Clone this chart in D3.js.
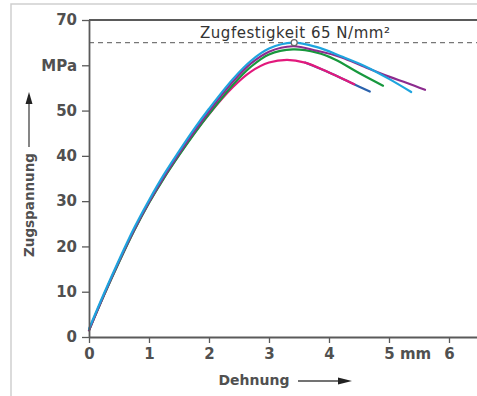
<!DOCTYPE html>
<html>
<head>
<meta charset="utf-8">
<script src="https://cdn.jsdelivr.net/npm/d3@7"></script>
<style>
  body { margin: 0; background: #fff; }
  svg { display: block; font-family: "DejaVu Sans", sans-serif; }
</style>
</head>
<body>
<div id="chart"></div>
<script>
// Dehnung (mm) / Zugspannung (MPa)
var dehnungTicks = [0, 1, 2, 3, 4, 5, 6];
var spannungTicks = [0, 10, 20, 30, 40, 50, 60, 70];
var zugfestigkeit = 65;
var peakDehnung = 3.42;

var blau = [[0,1.8],[0.25,9.6],[0.5,17],[0.75,24],[1,30.2],[1.25,35.9],[1.5,41],[1.75,45.9],[2,50.4],[2.4,57],[2.7,61],[3,63.7],[3.4,65],[3.8,64],[4.2,62],[4.6,59.8],[5,57],[5.37,54.1]];
var lila = [[0,1.5],[0.25,9.3],[0.5,16.7],[0.75,23.6],[1,29.8],[1.25,35.4],[1.5,40.5],[1.75,45.3],[2,49.8],[2.4,56.4],[2.7,60.4],[3,63],[3.4,64.2],[3.8,63.2],[4.2,61.8],[4.6,59.6],[5,57.5],[5.3,56.1],[5.6,54.6]];
var gruen = [[0,1.5],[0.25,9.2],[0.5,16.5],[0.75,23.4],[1,29.6],[1.25,35.1],[1.5,40.1],[1.75,44.8],[2,49.2],[2.4,55.7],[2.7,59.7],[3,62.4],[3.4,63.5],[3.8,62.8],[4.1,61.3],[4.5,58.3],[4.9,55.5]];
var magenta = [[0,1.5],[0.25,9.3],[0.5,16.6],[0.75,23.5],[1,29.7],[1.25,35.2],[1.5,40.2],[1.75,44.9],[2,49.2],[2.4,55.2],[2.7,58.6],[3,60.6],[3.3,61.2],[3.6,60.6],[4,58.4],[4.42,55.8]];
var dunkelblau = [[3.6,60.6],[4,58.4],[4.4,55.9],[4.68,54.2]];

var series = [
    { data: dunkelblau, color: "#2b62ad" },
    { data: magenta, color: "#e2197c" },
    { data: gruen, color: "#17983d" },
    { data: lila, color: "#8c2b8e" },
    { data: blau, color: "#1ea4de" }
];

var width = 477, height = 396;
var svg = d3.select("#chart").append("svg")
    .attr("width", width)
    .attr("height", height);

// light outer frame
svg.append("path")
    .attr("d", "M11,396V4H477")
    .attr("fill", "none")
    .attr("stroke", "#cfcfcf")
    .attr("stroke-width", 1.5);

var x = d3.scaleLinear().domain([0, 388 / 60]).range([89, 477]);
var y = d3.scaleLinear().domain([0, 70]).range([337, 20]);

// top border of the plot
svg.append("line")
    .attr("x1", x(0)).attr("x2", 477)
    .attr("y1", y(70)).attr("y2", y(70))
    .attr("stroke", "#5a5a5a")
    .attr("stroke-width", 1.8);

// Zugfestigkeit dashed line
svg.append("line")
    .attr("x1", x(0)).attr("x2", 477)
    .attr("y1", y(zugfestigkeit)).attr("y2", y(zugfestigkeit))
    .attr("stroke", "#777")
    .attr("stroke-width", 1.3)
    .attr("stroke-dasharray", "5,4");

svg.append("text")
    .attr("x", 200)
    .attr("y", 37.5)
    .attr("font-size", "15px")
    .attr("fill", "#333")
    .attr("textLength", 190)
    .attr("lengthAdjust", "spacing")
    .text("Zugfestigkeit 65 N/mm²");

// curves
var line = d3.line()
    .x(function(d) { return x(d[0]); })
    .y(function(d) { return y(d[1]); })
    .curve(d3.curveCatmullRom.alpha(0.5));

svg.selectAll(".kurve")
    .data(series)
    .enter().append("path")
    .attr("class", "kurve")
    .attr("d", function(d) { return line(d.data); })
    .attr("fill", "none")
    .attr("stroke", function(d) { return d.color; })
    .attr("stroke-width", 2.2)
    .attr("stroke-linecap", "round");

svg.append("circle")
    .attr("cx", x(peakDehnung))
    .attr("cy", y(zugfestigkeit))
    .attr("r", 3)
    .attr("fill", "#fff")
    .attr("stroke", "#666")
    .attr("stroke-width", 1.2);

// axes
var xAxis = d3.axisBottom(x).tickValues(dehnungTicks).tickSize(6).tickPadding(5).tickSizeOuter(0)
    .tickFormat(d3.format("d"));
var yAxis = d3.axisLeft(y).tickValues(spannungTicks).tickSize(7).tickPadding(5).tickSizeOuter(0)
    .tickFormat(function(d) { return d === 60 ? "MPa" : d; });

var gx = svg.append("g").attr("transform", "translate(0," + y(0) + ")").call(xAxis);
var gy = svg.append("g").attr("transform", "translate(" + x(0) + ",0)").call(yAxis);

[gx, gy].forEach(function(g) {
    g.select(".domain").attr("stroke", "#5a5a5a").attr("stroke-width", 1.8);
    g.selectAll(".tick line").attr("stroke", "#5a5a5a").attr("stroke-width", 1.3);
    g.selectAll(".tick text")
        .attr("fill", "#505050")
        .attr("font-size", "15px")
        .attr("font-weight", "bold")
        .attr("font-family", "DejaVu Sans, sans-serif");
});

gx.selectAll(".tick text")
    .filter(function(d) { return d === 5; })
    .attr("text-anchor", "start")
    .attr("x", -5.2)
    .text("5 mm");

// axis titles with arrows
svg.append("text")
    .attr("transform", "translate(33.5,205) rotate(-90)")
    .attr("text-anchor", "middle")
    .attr("font-size", "13.5px")
    .attr("font-weight", "bold")
    .attr("fill", "#505050")
    .text("Zugspannung");

svg.append("line")
    .attr("x1", 29).attr("x2", 29)
    .attr("y1", 147).attr("y2", 102)
    .attr("stroke", "#444").attr("stroke-width", 1.3);
svg.append("path")
    .attr("d", "M29,92L25.5,104L32.5,104Z")
    .attr("fill", "#222");

svg.append("text")
    .attr("x", 254)
    .attr("y", 385)
    .attr("text-anchor", "middle")
    .attr("font-size", "14px")
    .attr("font-weight", "bold")
    .attr("fill", "#505050")
    .text("Dehnung");

svg.append("line")
    .attr("x1", 298).attr("x2", 340)
    .attr("y1", 381).attr("y2", 381)
    .attr("stroke", "#444").attr("stroke-width", 1.3);
svg.append("path")
    .attr("d", "M352,381L338,377.5L338,384.5Z")
    .attr("fill", "#222");
</script>
</body>
</html>
